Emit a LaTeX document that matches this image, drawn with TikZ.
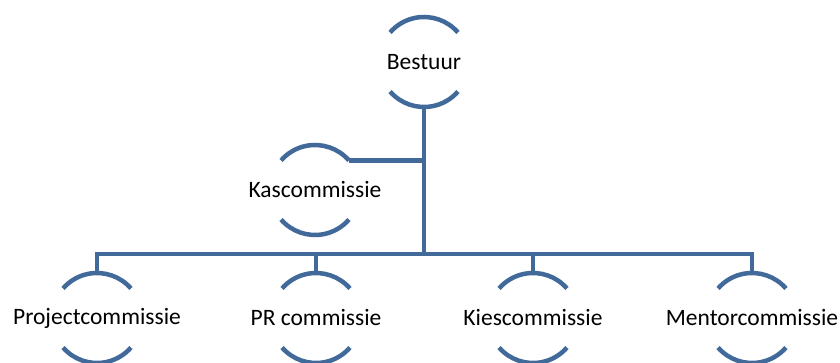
\documentclass[tikz,border=0pt]{standalone}
\usepackage{fontspec}
\setmainfont{Carlito}
\usepackage{tikz}
\usetikzlibrary{calc,positioning}
\definecolor{orgblue}{RGB}{65,105,153}

\begin{document}
\begin{tikzpicture}[x=1pt,y=1pt,
	conn/.style={line width=4.5pt,orgblue},
	ring/.style={line width=4.5pt,orgblue},
	lbl/.style={inner sep=0pt,font=\fontsize{23.5}{28}\selectfont}]
\useasboundingbox (0,0) rectangle (840,363);
\node[lbl] (bestuur) at (424,301) {Bestuur};
\node[lbl] (kas) at (315,173) {Kascommissie};
\node[lbl] (proj) at (97,45) {Projectcommissie};
\node[lbl] (pr) at (316,45) {PR commissie};
\node[lbl] (kies) at (533,45) {Kiescommissie};
\node[lbl] (mentor) at (752,45) {Mentorcommissie};
\coordinate (hub) at (424,109);
% rings: two arcs round every label
\foreach \n in {bestuur,kas,proj,pr,kies,mentor} {
	\draw[ring] ($(\n.center)+(41:45)$) arc[start angle=41,end angle=139,radius=45];
	\draw[ring] ($(\n.center)+(221:45)$) arc[start angle=221,end angle=319,radius=45];
}
% connectors
\draw[conn] ($(bestuur.center)+(0,-45)$) -- (hub);
\draw[conn] ($(kas.center)+(41:45)$) -| (hub);
\foreach \n in {proj,pr,kies,mentor} {\draw[conn] ($(\n.center)+(0,45)$) |- (hub);}
\end{tikzpicture}
\end{document}
